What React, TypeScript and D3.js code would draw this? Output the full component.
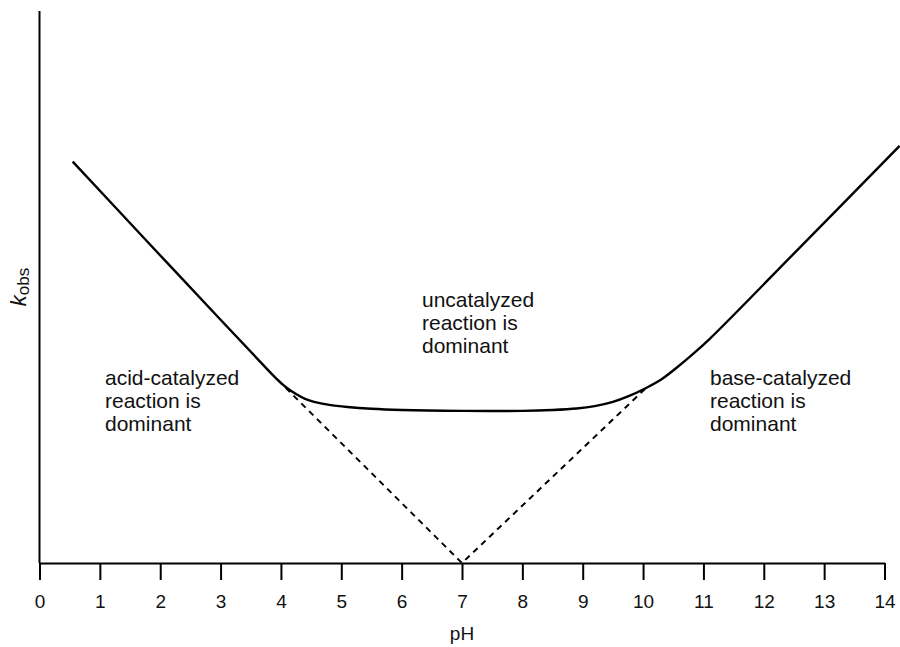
import React, { useEffect, useRef } from "react";
import * as d3 from "d3";

// pH tick labels
const phTicks = [0, 1, 2, 3, 4, 5, 6, 7, 8, 9, 10, 11, 12, 13, 14];

const curvePH = [0.55, 1.8, 3.0, 3.65, 3.95, 4.1, 4.25, 4.4, 4.55, 4.8, 5.1, 5.5, 6.0, 7.0, 8.0, 8.5, 8.9, 9.2, 9.5, 9.75, 10.05, 10.3, 10.55, 10.8, 11.1, 12.6, 14.25];
const curveLogK = [6.65, 5.31, 4.03, 3.34, 3.03, 2.9, 2.8, 2.72, 2.67, 2.62, 2.585, 2.555, 2.535, 2.52, 2.52, 2.535, 2.56, 2.6, 2.67, 2.76, 2.9, 3.04, 3.23, 3.44, 3.71, 5.23, 6.91];

// extrapolated acid / base catalysed lines (dashed)
const dashPH = [3.95, 7, 10.05];
const dashLogK = [3.03, 0, 2.9];

const acidLabel = ["acid-catalyzed", "reaction is", "dominant"];
const uncatLabel = ["uncatalyzed", "reaction is", "dominant"];
const baseLabel = ["base-catalyzed", "reaction is", "dominant"];

const W = 900;
const H = 647;
const FONT = "'Liberation Sans', Arial, Helvetica, sans-serif";

export default function App() {
  const ref = useRef<SVGSVGElement | null>(null);

  useEffect(() => {
    const svg = d3.select(ref.current);
    svg.selectAll("*").remove();

    const x = d3.scaleLinear().domain([0, 14]).range([39.5, 884.5]);
    const y = d3.scaleLinear().domain([0, 9.145]).range([563, 11]);

    // x axis
    const xAxis = d3
      .axisBottom(x)
      .tickValues(phTicks)
      .tickFormat(d3.format("d") as any)
      .tickSize(17)
      .tickSizeOuter(0)
      .tickPadding(15);
    const gx = svg.append("g").attr("transform", `translate(0,${y(0)})`).call(xAxis as any);
    gx.select(".domain").attr("stroke", "#000").attr("stroke-width", 2);
    gx.selectAll(".tick line").attr("stroke", "#000").attr("stroke-width", 2);
    gx.selectAll(".tick text")
      .attr("fill", "#111")
      .style("font-family", FONT)
      .style("font-size", "19px");

    // y axis line (no ticks)
    svg
      .append("line")
      .attr("x1", x(0))
      .attr("x2", x(0))
      .attr("y1", y(9.145))
      .attr("y2", y(0))
      .attr("stroke", "#000")
      .attr("stroke-width", 2);

    // dashed asymptotes
    const dashData = dashPH.map((p, i) => [p, dashLogK[i]] as [number, number]);
    svg
      .append("path")
      .attr("d", d3.line().x((d) => x(d[0])).y((d) => y(d[1]))(dashData) as string)
      .attr("fill", "none")
      .attr("stroke", "#000")
      .attr("stroke-width", 2)
      .attr("stroke-dasharray", "6,5");

    // observed curve
    const curveData = curvePH.map((p, i) => [p, curveLogK[i]] as [number, number]);
    svg
      .append("path")
      .attr(
        "d",
        d3
          .line()
          .x((d) => x(d[0]))
          .y((d) => y(d[1]))
          .curve(d3.curveCatmullRom.alpha(0.5))(curveData) as string
      )
      .attr("fill", "none")
      .attr("stroke", "#000")
      .attr("stroke-width", 2.4);

    // annotations
    const addLabel = (lines: string[], px: number, top: number) => {
      const t = svg
        .append("text")
        .attr("x", px)
        .attr("y", top)
        .attr("fill", "#111")
        .style("font-family", FONT)
        .style("font-size", "21px");
      lines.forEach((l, i) => {
        t.append("tspan").attr("x", px).attr("y", top + i * 23).text(l);
      });
    };
    addLabel(acidLabel, 105, 385);
    addLabel(uncatLabel, 422, 307);
    addLabel(baseLabel, 710, 385);

    // axis titles
    svg
      .append("text")
      .attr("x", x(7))
      .attr("y", 640)
      .attr("text-anchor", "middle")
      .attr("fill", "#111")
      .style("font-family", FONT)
      .style("font-size", "19px")
      .text("pH");

    const yl = svg
      .append("text")
      .attr("transform", `translate(26,287) rotate(-90)`)
      .attr("text-anchor", "middle")
      .attr("fill", "#111")
      .style("font-family", FONT)
      .style("font-size", "22px");
    yl.append("tspan").style("font-style", "italic").text("k");
    yl.append("tspan").attr("dy", 3).style("font-size", "17px").text("obs");
  }, []);

  return (
    <svg
      ref={ref}
      width={W}
      height={H}
      style={{ position: "absolute", left: 0, top: 0, background: "#fff" }}
    />
  );
}
